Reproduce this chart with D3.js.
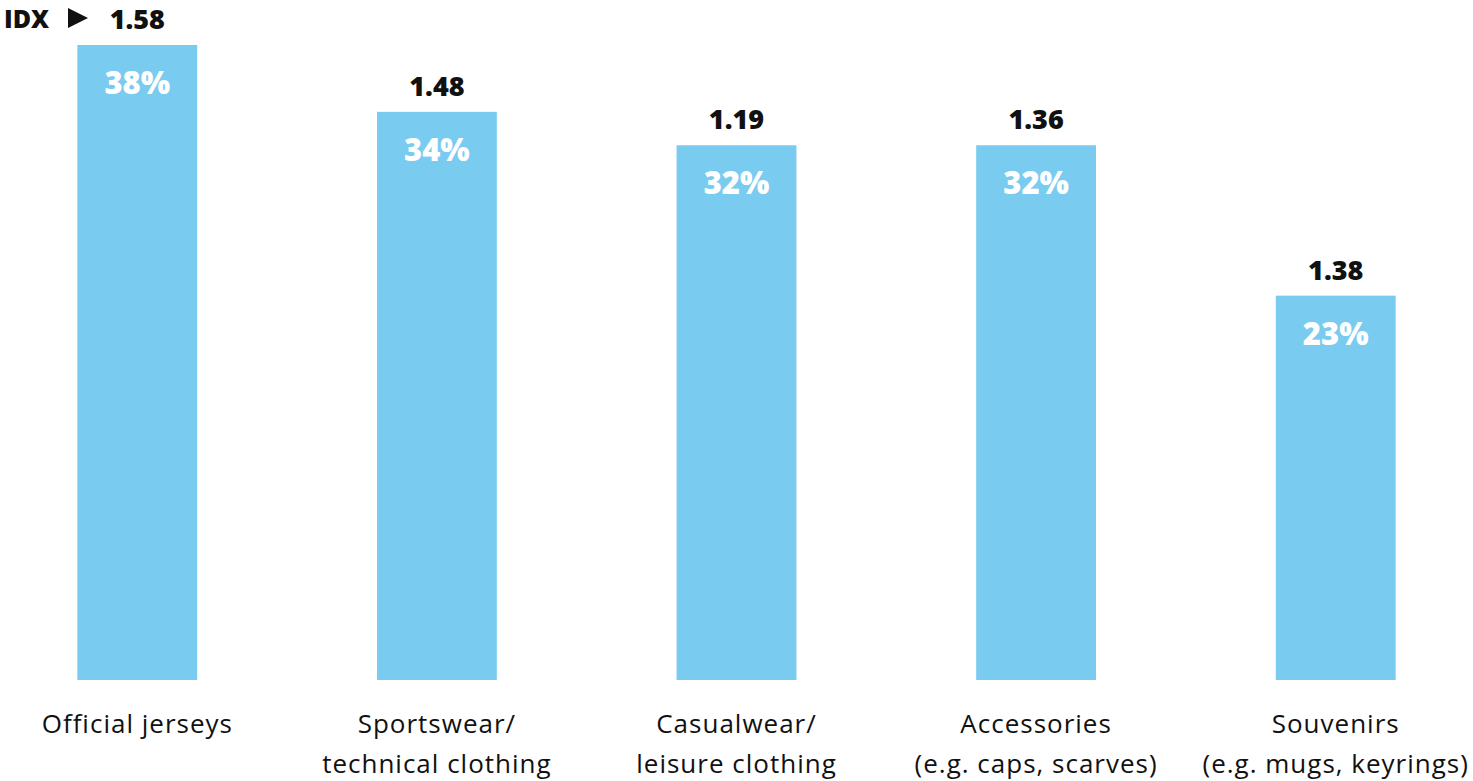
<!DOCTYPE html>
<html><head><meta charset="utf-8">
<script src="https://cdn.jsdelivr.net/npm/d3@7/dist/d3.min.js"></script>
<style>
html,body{margin:0;padding:0;background:#fff;}
svg{display:block;font-family:"Open Sans","Noto Sans",sans-serif;}
</style></head>
<body><svg id="chart" width="1473" height="781"></svg>
<script>
const categories = [
  ["Official jerseys"],
  ["Sportswear/", "technical clothing"],
  ["Casualwear/", "leisure clothing"],
  ["Accessories", "(e.g. caps, scarves)"],
  ["Souvenirs", "(e.g. mugs, keyrings)"]
];
const shares = [38, 34, 32, 32, 23];
const indexValues = ["1.58", "1.48", "1.19", "1.36", "1.38"];
const indexPrefix = "IDX";

const svg = d3.select("#chart");
const x = d3.scaleBand().domain(d3.range(categories.length)).range([-12.5, 1485.5]).paddingInner(0.6).paddingOuter(0.3);
const y = d3.scaleLinear().domain([0, 38]).range([680, 45]);
const barColor = "#7acbf0";

const g = svg.append("g");
g.selectAll("rect.bar").data(shares).join("rect")
  .attr("class","bar")
  .attr("x",(d,i)=>x(i)).attr("width",x.bandwidth())
  .attr("y",d=>y(d)).attr("height",d=>y(0)-y(d))
  .attr("fill",barColor);

g.selectAll("text.pct").data(shares).join("text")
  .attr("class","pct")
  .attr("x",(d,i)=>x(i)+x.bandwidth()/2)
  .attr("y",d=>y(d)+49)
  .attr("text-anchor","middle")
  .attr("font-size",31).attr("font-weight",800).attr("fill","#fff")
  .text(d=>d+"%");

g.selectAll("text.idx").data(indexValues).join("text")
  .attr("class","idx")
  .attr("x",(d,i)=>x(i)+x.bandwidth()/2)
  .attr("y",(d,i)=>y(shares[i])-16)
  .attr("text-anchor","middle")
  .attr("font-size",27).attr("font-weight",800).attr("fill","#111")
  .text(d=>d);

// IDX marker
const pre = svg.append("g");
pre.append("text").attr("x",4).attr("y",y(shares[0])-17)
  .attr("font-size",25).attr("font-weight",800).attr("fill","#111").text(indexPrefix);
const ty = y(shares[0])-27;
pre.append("path").attr("d",`M68,${ty-10}L88,${ty}L68,${ty+10}Z`).attr("fill","#111");

// category labels
categories.forEach((lines,i)=>{
  const t = g.append("text")
    .attr("x",x(i)+x.bandwidth()/2)
    .attr("text-anchor","middle")
    .attr("font-size",26).attr("letter-spacing",1.0).attr("fill","#111");
  lines.forEach((l,j)=>{
    t.append("tspan").attr("x",x(i)+x.bandwidth()/2).attr("y",733+j*40).text(l);
  });
});
</script></body></html>
